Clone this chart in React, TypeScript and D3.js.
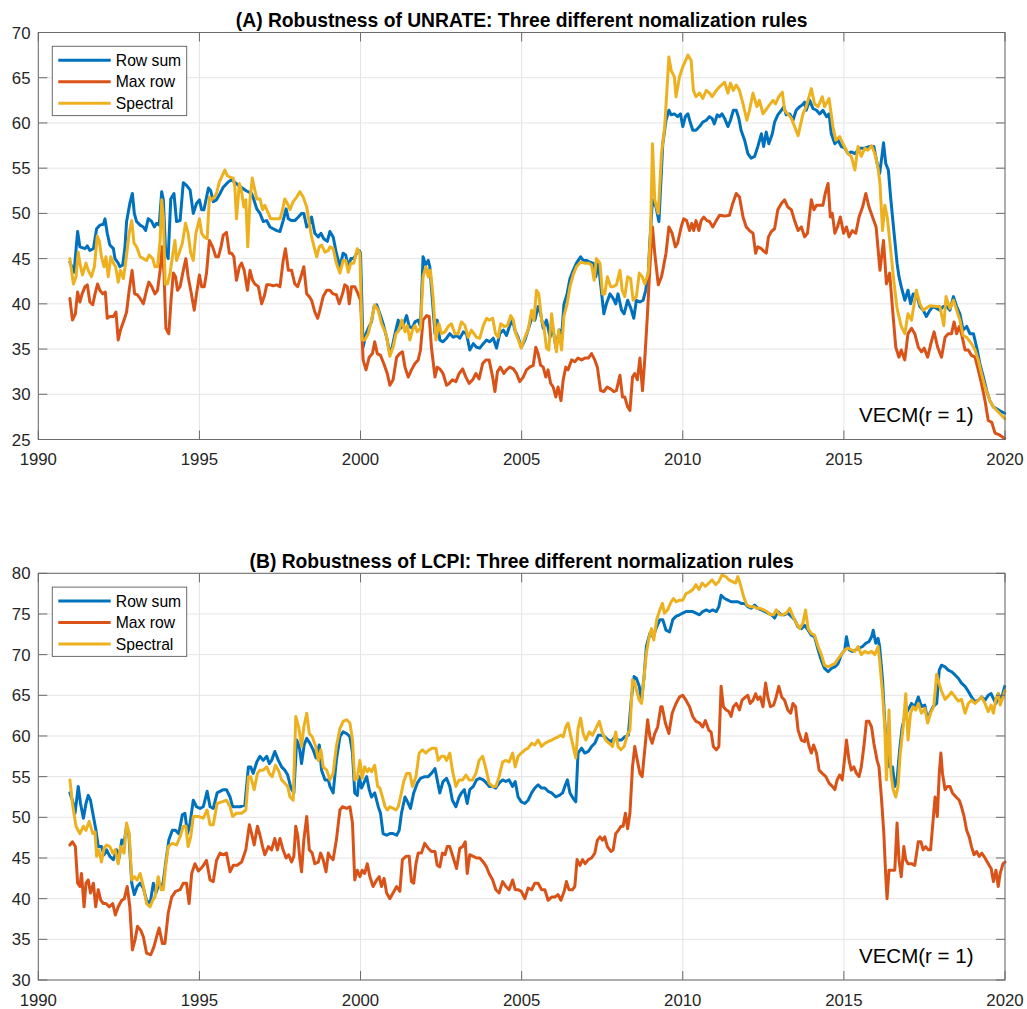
import React from "react";
import * as d3 from "d3";

type Pt = [number, number];

const xTicks = [1990, 1995, 2000, 2005, 2010, 2015, 2020];
const unrateTicks = [25, 30, 35, 40, 45, 50, 55, 60, 65, 70];
const lcpiTicks = [30, 35, 40, 45, 50, 55, 60, 65, 70, 75, 80];
const seriesNames = ["Row sum", "Max row", "Spectral"];
const seriesColors = ["#0072BD", "#D95319", "#EDB120"];
const titleA = "(A) Robustness of UNRATE: Three different nomalization rules";
const titleB = "(B) Robustness of LCPI: Three different normalization rules";
const noteText = "VECM(r = 1)";

const unrateRowSum: Pt[] = [
[1990.98,44.6],[1991.11,43.5],[1991.22,48.0],[1991.29,46.3],[1991.45,46.1],[1991.52,46.4],[1991.60,45.9],[1991.71,46.1],[1991.81,48.3],[1991.91,48.7],[1992.02,48.8],[1992.07,49.4],[1992.14,47.8],[1992.22,46.5],[1992.33,46.1],[1992.38,45.0],[1992.48,44.5],[1992.53,44.1],[1992.62,44.3],[1992.69,46.3],[1992.74,49.1],[1992.84,51.1],[1992.92,52.2],[1992.98,50.0],[1993.05,49.1],[1993.16,48.7],[1993.26,48.5],[1993.33,48.1],[1993.41,49.4],[1993.52,49.1],[1993.60,48.5],[1993.67,48.9],[1993.75,48.7],[1993.83,52.4],[1993.88,51.5],[1993.95,45.9],[1994.03,45.0],[1994.11,51.6],[1994.21,52.2],[1994.29,49.1],[1994.40,49.2],[1994.50,53.4],[1994.60,53.1],[1994.71,52.6],[1994.81,50.0],[1994.91,51.1],[1995.00,51.5],[1995.07,50.4],[1995.14,50.4],[1995.28,52.8],[1995.35,52.5],[1995.43,51.3],[1995.53,51.5],[1995.64,52.2],[1995.74,52.9],[1995.90,53.5],[1996.00,53.7],[1996.25,53.0],[1996.45,52.5],
[1996.62,52.2],[1996.69,51.5],[1996.78,50.5],[1996.88,50.0],[1996.98,49.1],[1997.09,49.2],[1997.19,48.5],[1997.29,48.3],[1997.40,48.1],[1997.50,48.0],[1997.60,49.2],[1997.69,50.5],[1997.76,49.4],[1997.86,49.2],[1997.96,49.2],[1998.07,49.6],[1998.17,50.0],[1998.24,50.0],[1998.33,48.5],[1998.43,48.9],[1998.48,49.6],[1998.58,47.8],[1998.69,47.4],[1998.77,47.8],[1998.86,47.2],[1998.97,46.9],
[1999.05,48.0],[1999.15,47.4],[1999.25,45.6],[1999.36,44.1],[1999.46,45.6],[1999.54,45.4],[1999.62,44.1],[1999.70,45.0],[1999.79,45.0],[1999.88,45.6],[1999.96,45.9],[2000.00,45.6],[2000.08,35.2],[2000.17,36.7],[2000.27,37.5],[2000.34,38.0],[2000.42,39.7],[2000.50,39.9],[2000.60,38.9],[2000.70,37.8],[2000.81,36.3],[2000.91,34.5],[2000.98,35.2],[2001.07,36.7],[2001.17,38.2],[2001.24,37.3],[2001.32,37.6],[2001.43,38.7],[2001.51,37.5],[2001.60,37.3],[2001.69,38.0],[2001.79,38.2],[2001.86,37.5],[2001.94,45.2],[2002.02,44.3],[2002.10,44.8],[2002.15,44.1],[2002.23,40.4],[2002.31,36.7],[2002.38,38.2],[2002.46,36.0],[2002.56,35.8],[2002.67,36.2],[2002.77,36.7],[2002.88,36.3],[2002.98,36.5],[2003.08,36.2],[2003.19,36.9],[2003.29,36.7],[2003.39,34.9],[2003.50,35.6],[2003.60,35.2],[2003.70,35.1],[2003.81,35.6],[2003.91,36.0],[2004.01,35.8],[2004.12,36.2],[2004.22,35.1],[2004.32,36.7],[2004.43,37.1],[2004.53,36.5],[2004.63,37.6],[2004.72,38.2],[2004.79,37.1],[2004.89,36.3],[2004.99,35.2],[2005.10,36.0],[2005.20,37.1],[2005.31,38.4],[2005.41,38.2],[2005.51,39.7],[2005.59,38.9],[2005.67,37.3],[2005.77,38.2],[2005.88,36.3],[2005.96,37.5],[2006.06,35.2],[2006.17,37.1],[2006.24,36.3],[2006.31,39.9],[2006.41,41.1],[2006.50,42.8],[2006.60,43.7],[2006.70,44.5],[2006.83,45.2],[2006.91,44.8],[2007.01,44.8],[2007.12,44.6],[2007.22,44.5],[2007.30,43.0],[2007.38,44.5],[2007.45,42.2],[2007.55,38.9],[2007.63,40.0],[2007.74,41.1],[2007.84,40.6],[2007.92,40.0],[2007.99,41.1],[2008.10,39.3],[2008.18,38.9],[2008.29,40.4],[2008.39,39.5],[2008.48,38.4],[2008.56,40.4],[2008.67,40.2],[2008.77,40.4],[2008.85,41.5],[2008.93,43.4],[2008.98,47.0],[2009.06,51.5],[2009.17,50.7],[2009.26,49.1],
[2009.38,57.7],[2009.48,60.3],[2009.57,61.4],[2009.64,60.9],[2009.74,61.0],[2009.84,60.7],[2009.93,61.0],[2010.00,59.6],[2010.08,60.7],[2010.16,61.0],[2010.23,60.1],[2010.31,59.2],[2010.41,59.2],[2010.52,59.6],[2010.62,60.1],[2010.73,60.3],[2010.83,60.7],[2010.91,60.5],[2010.98,59.9],[2011.07,60.9],[2011.14,60.7],[2011.22,61.0],[2011.30,60.5],[2011.40,59.6],[2011.48,60.3],[2011.57,61.4],[2011.66,61.4],[2011.74,60.5],[2011.81,59.2],[2011.92,58.1],[2012.02,56.6],[2012.12,56.1],[2012.23,56.3],[2012.33,57.4],[2012.44,58.8],[2012.51,57.4],[2012.59,59.0],[2012.67,57.7],[2012.78,58.8],[2012.85,60.1],[2012.95,60.9],[2013.06,61.4],[2013.14,61.8],[2013.21,60.9],[2013.32,61.0],[2013.42,60.3],[2013.52,61.4],[2013.63,61.8],[2013.71,62.0],[2013.78,62.3],[2013.83,61.4],[2013.94,62.5],[2014.04,61.6],[2014.15,61.4],[2014.25,61.0],[2014.35,61.4],[2014.46,60.7],[2014.54,61.0],[2014.61,58.8],[2014.72,57.7],[2014.82,58.1],[2014.92,57.4],[2015.03,57.2],[2015.13,56.6],[2015.23,56.8],[2015.34,56.6],[2015.49,57.2],[2015.65,57.2],[2015.80,57.4],[2015.93,57.4],[2016.01,55.9],[2016.11,54.4],[2016.18,56.3],[2016.23,57.8],[2016.30,55.5],[2016.38,54.8],[2016.45,51.8],[2016.55,48.1],[2016.65,44.5],[2016.71,43.0],[2016.78,41.9],[2016.89,40.4],[2016.99,41.5],[2017.07,40.0],[2017.15,41.1],[2017.25,41.1],[2017.36,39.7],[2017.46,39.3],[2017.56,38.6],[2017.67,39.3],[2017.77,39.7],[2017.88,39.5],[2017.98,39.3],[2018.08,39.7],[2018.19,39.7],[2018.29,39.3],[2018.40,40.8],[2018.50,39.7],[2018.60,38.9],[2018.70,37.1],[2018.81,37.5],[2018.91,36.7],[2019.02,36.7],[2019.12,35.2],[2019.22,33.4],[2019.33,31.9],[2019.43,30.4],[2019.53,29.3],[2019.64,28.6],[2019.74,28.4],[2019.83,28.2],[2019.99,27.9]
];

const unrateMaxRow: Pt[] = [
[1990.98,40.6],[1991.06,38.2],[1991.15,38.9],[1991.22,41.3],[1991.29,40.2],[1991.36,41.1],[1991.45,41.9],[1991.52,42.1],[1991.60,40.2],[1991.69,39.9],[1991.76,41.1],[1991.84,42.2],[1991.91,41.5],[1992.00,41.1],[1992.08,41.3],[1992.14,38.4],[1992.22,38.6],[1992.33,38.6],[1992.41,39.1],[1992.48,36.0],[1992.55,37.1],[1992.66,38.2],[1992.74,39.1],[1992.82,41.5],[1992.91,43.7],[1992.99,41.1],[1993.07,41.0],[1993.16,40.6],[1993.26,40.0],[1993.36,41.5],[1993.43,42.4],[1993.52,41.9],[1993.62,41.1],[1993.70,41.5],[1993.78,43.7],[1993.84,46.3],[1993.90,43.4],[1993.96,37.3],[1994.05,36.7],[1994.12,40.4],[1994.19,43.4],[1994.26,43.0],[1994.32,41.5],[1994.40,41.9],[1994.50,43.7],[1994.58,45.0],[1994.65,43.0],[1994.74,41.3],[1994.84,39.3],[1994.91,41.1],[1995.00,43.2],[1995.07,41.9],[1995.15,41.9],[1995.22,43.4],[1995.31,47.0],[1995.41,46.3],[1995.51,45.2],[1995.59,45.2],[1995.67,46.3],[1995.74,47.6],[1995.84,47.9],[1995.93,45.6],[1996.00,45.6],[1996.07,45.2],[1996.15,42.6],[1996.24,44.1],[1996.31,44.5],[1996.39,43.7],[1996.49,41.5],[1996.57,43.7],[1996.65,42.6],[1996.72,42.2],[1996.83,41.9],[1996.93,40.0],[1997.01,40.8],[1997.09,42.1],[1997.19,42.1],[1997.29,42.0],[1997.40,42.1],[1997.50,41.9],[1997.60,44.8],[1997.67,46.1],[1997.76,43.7],[1997.86,43.7],[1997.96,42.2],[1998.05,41.9],[1998.15,43.0],[1998.24,44.1],[1998.33,41.1],[1998.41,40.8],[1998.48,40.4],[1998.58,39.1],[1998.67,38.4],[1998.74,39.3],[1998.84,40.8],[1998.95,41.5],
[1999.05,41.5],[1999.15,41.1],[1999.25,41.0],[1999.34,40.0],[1999.44,41.1],[1999.51,42.1],[1999.59,41.9],[1999.65,40.0],[1999.72,41.9],[1999.82,41.9],[1999.90,41.3],[2000.00,40.4],[2000.08,33.8],[2000.17,32.7],[2000.27,34.1],[2000.37,34.5],[2000.44,35.8],[2000.52,34.5],[2000.62,34.3],[2000.72,33.4],[2000.83,32.3],[2000.91,31.0],[2001.01,31.6],[2001.12,34.1],[2001.22,34.5],[2001.30,34.7],[2001.38,33.0],[2001.48,31.9],[2001.58,32.7],[2001.69,33.4],[2001.79,33.8],[2001.86,34.9],[2001.94,38.2],[2002.05,38.7],[2002.13,38.6],[2002.20,35.2],[2002.31,31.9],[2002.38,33.0],[2002.46,32.8],[2002.56,32.3],[2002.67,31.0],[2002.75,31.2],[2002.85,31.6],[2002.96,31.4],[2003.06,32.3],[2003.17,32.8],[2003.27,31.9],[2003.37,31.2],[2003.48,31.6],[2003.58,32.3],[2003.68,31.7],[2003.79,33.4],[2003.89,33.8],[2003.99,33.8],[2004.10,31.9],[2004.17,30.3],[2004.25,32.5],[2004.34,33.0],[2004.45,32.3],[2004.53,32.7],[2004.63,33.0],[2004.74,32.8],[2004.84,32.3],[2004.94,31.4],[2005.05,31.9],[2005.15,32.7],[2005.25,33.0],[2005.36,33.2],[2005.44,35.2],[2005.51,34.5],[2005.59,33.2],[2005.67,33.0],[2005.75,31.9],[2005.82,32.7],[2005.90,31.2],[2005.98,30.8],[2006.06,29.7],[2006.13,30.8],[2006.22,29.3],[2006.29,31.6],[2006.37,33.0],[2006.44,32.7],[2006.55,33.8],[2006.65,33.6],[2006.75,34.0],[2006.86,33.8],[2006.96,34.0],[2007.07,34.0],[2007.17,34.5],[2007.27,33.8],[2007.35,33.0],[2007.45,30.4],[2007.55,30.3],[2007.65,30.8],[2007.76,30.6],[2007.86,30.3],[2007.94,30.4],[2008.05,32.1],[2008.13,29.7],[2008.20,29.7],[2008.29,28.6],[2008.36,28.2],[2008.44,31.9],[2008.51,32.3],[2008.59,31.6],[2008.67,34.0],[2008.75,30.4],[2008.82,33.8],[2008.90,38.6],[2008.98,44.1],[2009.06,48.5],[2009.13,45.6],[2009.24,42.1],
[2009.34,43.0],[2009.38,43.7],[2009.48,45.6],[2009.57,48.5],[2009.67,47.8],[2009.77,46.3],[2009.84,46.7],[2009.95,48.5],[2010.03,49.4],[2010.12,49.2],[2010.21,48.1],[2010.28,48.9],[2010.34,48.1],[2010.41,49.2],[2010.50,48.1],[2010.57,49.2],[2010.65,49.6],[2010.75,49.2],[2010.83,49.1],[2010.93,48.5],[2011.04,49.2],[2011.14,49.8],[2011.30,49.7],[2011.45,49.8],[2011.55,51.1],[2011.66,52.2],[2011.76,51.8],[2011.87,49.6],[2011.97,48.5],[2012.07,48.1],[2012.18,47.8],[2012.26,45.6],[2012.33,46.3],[2012.44,46.1],[2012.52,45.8],[2012.59,45.6],[2012.66,47.4],[2012.75,48.0],[2012.85,48.3],[2012.95,50.4],[2013.06,51.1],[2013.16,51.5],[2013.26,50.7],[2013.37,50.4],[2013.47,49.2],[2013.58,48.1],[2013.68,48.5],[2013.78,47.4],[2013.87,47.8],[2013.99,51.5],[2014.07,50.4],[2014.15,50.9],[2014.25,50.9],[2014.35,50.9],[2014.42,52.2],[2014.51,53.3],[2014.58,49.6],[2014.64,50.0],[2014.72,47.8],[2014.80,48.5],[2014.89,49.6],[2014.99,47.8],[2015.08,48.5],[2015.16,47.4],[2015.26,48.1],[2015.37,47.8],[2015.47,49.6],[2015.58,50.7],[2015.68,52.2],[2015.78,50.7],[2015.89,49.6],[2016.00,48.5],[2016.12,43.7],[2016.23,47.0],[2016.32,42.2],[2016.42,43.4],[2016.52,39.0],[2016.61,35.2],[2016.71,34.1],[2016.78,34.9],[2016.89,33.8],[2016.99,36.7],[2017.10,37.3],[2017.20,36.7],[2017.31,35.2],[2017.41,34.7],[2017.49,35.1],[2017.60,34.1],[2017.70,35.6],[2017.80,36.9],[2017.91,35.2],[2018.03,34.1],[2018.14,36.3],[2018.24,36.7],[2018.34,36.7],[2018.42,38.0],[2018.50,36.7],[2018.58,37.5],[2018.65,36.7],[2018.76,34.9],[2018.86,34.9],[2018.96,34.3],[2019.07,34.1],[2019.17,32.7],[2019.27,31.2],[2019.38,29.3],[2019.48,27.1],[2019.59,26.9],[2019.69,25.7],[2019.83,25.5],[2019.99,25.1]
];

const unrateSpectral: Pt[] = [
[1990.98,45.0],[1991.09,42.2],[1991.17,43.0],[1991.24,45.7],[1991.29,44.5],[1991.37,43.2],[1991.48,44.5],[1991.55,43.7],[1991.65,43.0],[1991.74,44.1],[1991.83,47.5],[1991.89,47.0],[1991.96,45.2],[1992.04,44.1],[1992.10,45.2],[1992.17,43.0],[1992.25,45.2],[1992.33,44.5],[1992.40,44.1],[1992.48,42.4],[1992.55,43.7],[1992.64,42.8],[1992.72,44.8],[1992.82,47.8],[1992.90,49.2],[1992.97,46.7],[1993.05,46.3],[1993.16,45.2],[1993.26,45.0],[1993.36,44.8],[1993.44,45.4],[1993.55,45.0],[1993.62,44.1],[1993.70,44.1],[1993.78,47.0],[1993.83,51.5],[1993.88,49.6],[1993.94,42.2],[1994.01,42.2],[1994.09,43.4],[1994.17,45.4],[1994.24,47.0],[1994.29,44.8],[1994.37,45.6],[1994.47,46.7],[1994.57,48.9],[1994.65,47.8],[1994.73,45.6],[1994.81,44.8],[1994.89,47.8],[1995.00,49.4],[1995.07,47.8],[1995.15,47.4],[1995.24,47.2],[1995.31,51.8],[1995.38,51.5],[1995.46,51.8],[1995.53,52.2],[1995.62,53.5],[1995.69,54.0],[1995.79,54.8],[1995.86,54.2],[1995.95,54.0],[1996.05,53.9],[1996.10,52.9],[1996.15,49.4],[1996.24,53.3],[1996.31,52.4],[1996.38,50.7],[1996.44,51.5],[1996.50,46.3],[1996.57,51.5],[1996.64,53.9],[1996.70,52.9],[1996.78,51.6],[1996.88,51.6],[1996.96,50.4],[1997.03,50.9],[1997.14,50.0],[1997.21,49.4],[1997.29,49.4],[1997.40,49.4],[1997.50,49.4],[1997.58,50.4],[1997.65,51.6],[1997.73,51.1],[1997.81,50.4],[1997.91,51.3],[1998.02,51.8],[1998.12,52.4],[1998.22,51.8],[1998.33,50.7],[1998.41,48.9],[1998.48,47.4],[1998.56,46.3],[1998.64,45.2],[1998.72,46.3],[1998.79,46.5],[1998.90,45.7],[1999.00,45.9],
[1999.05,46.3],[1999.15,46.1],[1999.25,44.5],[1999.36,43.4],[1999.46,44.8],[1999.54,44.8],[1999.62,43.5],[1999.70,44.5],[1999.79,44.5],[1999.90,46.1],[1999.98,45.6],[2000.05,36.0],[2000.13,36.0],[2000.24,36.7],[2000.34,38.2],[2000.44,39.9],[2000.55,39.3],[2000.65,37.8],[2000.79,36.7],[2000.91,34.2],[2001.01,35.2],[2001.10,36.7],[2001.20,37.1],[2001.28,38.2],[2001.38,36.9],[2001.45,37.6],[2001.53,36.0],[2001.61,37.1],[2001.69,37.6],[2001.76,36.9],[2001.86,37.3],[2001.94,43.0],[2002.03,44.1],[2002.10,43.0],[2002.17,43.7],[2002.25,40.8],[2002.34,36.0],[2002.43,37.8],[2002.51,36.7],[2002.62,36.9],[2002.72,37.5],[2002.82,37.8],[2002.93,36.7],[2003.03,36.7],[2003.13,38.0],[2003.24,37.6],[2003.34,36.3],[2003.44,37.1],[2003.52,36.7],[2003.60,36.3],[2003.70,36.2],[2003.81,37.6],[2003.91,38.4],[2003.99,38.2],[2004.10,38.4],[2004.19,36.7],[2004.27,36.3],[2004.35,37.8],[2004.46,37.5],[2004.56,37.6],[2004.66,38.7],[2004.74,38.2],[2004.82,36.7],[2004.90,36.0],[2004.99,35.1],[2005.10,36.3],[2005.20,37.1],[2005.31,39.3],[2005.38,38.2],[2005.46,41.5],[2005.53,41.1],[2005.62,38.2],[2005.69,37.5],[2005.77,35.1],[2005.84,34.9],[2005.93,38.9],[2006.00,36.7],[2006.08,34.7],[2006.15,37.1],[2006.24,34.9],[2006.31,38.6],[2006.41,40.0],[2006.50,41.9],[2006.60,43.2],[2006.70,44.1],[2006.83,44.6],[2006.96,44.5],[2007.07,44.5],[2007.17,44.3],[2007.25,42.6],[2007.32,45.0],[2007.43,44.5],[2007.51,41.1],[2007.58,41.1],[2007.66,43.0],[2007.76,41.9],[2007.84,41.9],[2007.94,42.1],[2008.05,43.7],[2008.12,41.5],[2008.20,40.8],[2008.29,43.0],[2008.38,42.8],[2008.46,40.4],[2008.56,40.8],[2008.65,43.4],[2008.74,43.0],[2008.82,42.2],[2008.93,43.4],[2009.00,47.8],[2009.06,57.7],[2009.13,51.5],[2009.24,50.0],[2009.34,56.6],[2009.44,59.6],
[2009.57,67.3],[2009.64,65.8],[2009.74,65.1],[2009.79,62.9],[2009.90,65.1],[2010.00,66.2],[2010.16,67.5],[2010.26,66.9],[2010.33,63.6],[2010.41,62.9],[2010.52,63.3],[2010.62,62.7],[2010.73,63.6],[2010.83,63.3],[2010.91,62.9],[2011.04,63.6],[2011.14,64.0],[2011.30,64.5],[2011.40,63.3],[2011.48,64.4],[2011.57,63.6],[2011.66,64.2],[2011.76,63.6],[2011.87,62.1],[2011.99,60.3],[2012.07,61.4],[2012.18,63.3],[2012.30,61.8],[2012.38,62.5],[2012.49,61.0],[2012.57,61.4],[2012.69,62.0],[2012.80,62.5],[2012.88,62.1],[2012.98,62.9],[2013.09,63.4],[2013.16,61.4],[2013.26,61.0],[2013.37,60.5],[2013.47,59.6],[2013.58,58.6],[2013.73,61.0],[2013.83,61.8],[2013.99,63.8],[2014.09,62.1],[2014.20,61.8],[2014.33,62.9],[2014.40,61.8],[2014.54,62.7],[2014.66,59.6],[2014.75,58.1],[2014.87,58.5],[2014.97,57.7],[2015.13,56.6],[2015.23,56.3],[2015.34,54.8],[2015.44,57.4],[2015.54,56.3],[2015.65,57.2],[2015.75,57.0],[2015.86,57.5],[2015.96,56.6],[2016.06,55.0],[2016.12,53.3],[2016.20,48.1],[2016.27,50.9],[2016.35,49.5],[2016.45,46.0],[2016.55,42.5],[2016.65,39.5],[2016.78,37.5],[2016.89,36.7],[2016.99,38.9],[2017.10,38.2],[2017.25,41.5],[2017.36,40.0],[2017.46,39.3],[2017.67,39.8],[2017.88,39.7],[2017.98,39.7],[2018.10,37.6],[2018.17,40.8],[2018.29,39.5],[2018.40,40.4],[2018.50,39.3],[2018.60,38.2],[2018.70,36.5],[2018.81,36.3],[2018.96,35.6],[2019.07,34.9],[2019.17,33.8],[2019.27,32.3],[2019.38,30.8],[2019.53,29.3],[2019.64,28.6],[2019.83,27.9],[2019.99,27.3]
];

const lcpiRowSum: Pt[] = [
[1990.98,53.0],[1991.06,52.1],[1991.14,50.5],[1991.24,53.8],[1991.31,51.7],[1991.40,49.9],[1991.48,51.7],[1991.55,52.7],[1991.62,52.1],[1991.71,50.1],[1991.79,48.4],[1991.86,46.4],[1991.96,46.4],[1992.04,45.4],[1992.12,46.0],[1992.22,45.2],[1992.33,44.8],[1992.43,46.0],[1992.51,45.0],[1992.59,47.2],[1992.66,46.8],[1992.74,48.9],[1992.81,48.0],[1992.90,41.9],[1992.98,40.5],[1993.07,41.5],[1993.16,41.9],[1993.26,41.3],[1993.36,39.8],[1993.47,39.4],[1993.57,41.9],[1993.65,40.7],[1993.75,41.9],[1993.86,41.5],[1993.95,44.3],[1994.05,47.2],[1994.16,48.4],[1994.26,48.4],[1994.36,48.0],[1994.47,50.3],[1994.55,50.5],[1994.63,48.0],[1994.71,49.3],[1994.81,52.1],[1994.91,51.3],[1995.02,51.1],[1995.12,51.3],[1995.24,53.2],[1995.33,51.3],[1995.43,51.1],[1995.55,53.0],[1995.64,53.2],[1995.74,53.4],[1995.84,53.4],[1995.95,52.5],[1996.03,51.3],[1996.15,51.3],[1996.26,51.3],[1996.41,51.5],[1996.52,56.2],[1996.59,56.2],[1996.67,55.4],[1996.78,56.8],[1996.88,57.5],[1996.98,57.0],[1997.09,57.5],[1997.17,56.6],[1997.24,57.0],[1997.34,58.1],[1997.45,57.0],[1997.55,56.2],[1997.65,55.8],[1997.74,55.2],[1997.84,53.6],[1997.93,53.0],[1998.02,59.5],[1998.10,58.7],[1998.17,56.6],[1998.25,58.9],[1998.33,59.7],[1998.43,59.1],[1998.53,58.3],[1998.62,57.3],[1998.72,58.9],[1998.79,55.8],[1998.90,54.6],[1999.00,54.6],
[1999.05,53.8],[1999.15,53.0],[1999.25,57.0],[1999.36,59.9],[1999.46,60.5],[1999.57,60.3],[1999.67,59.9],[1999.75,57.9],[1999.82,53.0],[1999.90,52.7],[1999.96,55.0],[2000.03,53.6],[2000.10,54.2],[2000.19,55.0],[2000.27,53.4],[2000.34,52.5],[2000.44,53.0],[2000.55,51.3],[2000.62,50.5],[2000.70,48.0],[2000.81,47.8],[2000.91,48.0],[2001.01,48.0],[2001.12,47.8],[2001.20,48.4],[2001.27,50.5],[2001.38,52.5],[2001.46,51.9],[2001.55,51.1],[2001.65,53.0],[2001.76,54.2],[2001.86,54.8],[2001.99,55.0],[2002.10,55.0],[2002.20,55.4],[2002.31,56.0],[2002.38,54.6],[2002.46,53.0],[2002.56,54.4],[2002.67,54.8],[2002.77,53.8],[2002.85,52.1],[2002.96,51.3],[2003.06,52.5],[2003.13,53.0],[2003.22,53.4],[2003.31,51.7],[2003.39,53.4],[2003.50,53.8],[2003.60,54.6],[2003.70,54.8],[2003.81,54.6],[2003.91,54.2],[2003.99,53.8],[2004.10,53.8],[2004.20,53.6],[2004.30,54.2],[2004.41,54.6],[2004.51,54.4],[2004.61,54.6],[2004.72,53.8],[2004.80,54.4],[2004.89,52.5],[2004.99,51.9],[2005.10,51.7],[2005.20,52.1],[2005.31,53.0],[2005.41,53.6],[2005.51,54.0],[2005.62,53.6],[2005.72,53.6],[2005.82,53.2],[2005.93,53.0],[2006.06,52.5],[2006.17,52.7],[2006.27,53.0],[2006.34,53.8],[2006.42,54.6],[2006.50,53.0],[2006.60,52.3],[2006.68,51.9],[2006.75,57.9],[2006.86,58.5],[2006.96,57.9],[2007.07,58.1],[2007.17,58.7],[2007.27,59.1],[2007.38,60.1],[2007.48,60.1],[2007.58,59.9],[2007.69,59.5],[2007.79,59.3],[2007.89,59.9],[2007.99,59.5],[2008.10,59.5],[2008.20,59.9],[2008.31,60.1],[2008.41,64.8],[2008.49,67.3],[2008.56,67.1],[2008.65,66.1],[2008.72,64.4],[2008.80,67.3],[2008.87,71.0],[2008.98,72.6],[2009.08,72.2],[2009.19,73.4],[2009.29,74.3],
[2009.38,74.3],[2009.48,73.0],[2009.59,72.8],[2009.69,74.3],[2009.79,74.7],[2009.90,74.9],[2010.00,75.1],[2010.10,75.3],[2010.31,75.3],[2010.52,74.9],[2010.62,75.3],[2010.73,75.5],[2010.83,75.3],[2010.93,75.5],[2011.04,75.3],[2011.12,75.9],[2011.19,77.3],[2011.30,76.9],[2011.40,76.7],[2011.50,76.5],[2011.71,76.5],[2011.81,76.3],[2011.92,76.3],[2012.02,75.9],[2012.12,75.7],[2012.23,76.1],[2012.33,75.7],[2012.44,75.5],[2012.54,75.3],[2012.64,75.1],[2012.75,74.9],[2012.85,74.5],[2012.95,75.3],[2013.06,74.9],[2013.16,74.9],[2013.26,75.1],[2013.37,74.7],[2013.47,74.3],[2013.58,73.4],[2013.68,73.2],[2013.78,73.6],[2013.89,73.0],[2013.99,72.4],[2014.09,72.2],[2014.20,70.6],[2014.30,69.3],[2014.40,68.3],[2014.51,67.9],[2014.61,68.3],[2014.72,68.5],[2014.82,68.9],[2014.92,70.0],[2015.03,70.6],[2015.08,72.2],[2015.16,70.6],[2015.26,70.4],[2015.37,70.6],[2015.47,70.8],[2015.58,71.0],[2015.68,71.4],[2015.78,71.6],[2015.86,72.2],[2015.91,73.0],[2015.99,71.4],[2016.06,72.0],[2016.11,71.0],[2016.20,66.9],[2016.27,61.6],[2016.35,57.5],[2016.42,56.2],[2016.51,56.2],[2016.58,53.8],[2016.65,54.6],[2016.73,58.3],[2016.81,61.1],[2016.89,62.4],[2016.99,63.2],[2017.10,64.0],[2017.20,63.6],[2017.31,64.8],[2017.41,63.6],[2017.51,63.8],[2017.60,62.0],[2017.67,62.8],[2017.77,63.6],[2017.88,64.0],[2017.96,68.1],[2018.03,68.7],[2018.14,68.5],[2018.24,68.1],[2018.34,67.9],[2018.45,67.5],[2018.55,67.1],[2018.65,66.5],[2018.76,66.1],[2018.86,65.5],[2018.96,64.8],[2019.07,64.2],[2019.17,64.4],[2019.27,64.8],[2019.38,64.4],[2019.48,65.0],[2019.57,65.2],[2019.64,64.6],[2019.72,64.0],[2019.79,65.2],[2019.88,64.4],[2019.99,66.1]
];

const lcpiMaxRow: Pt[] = [
[1990.98,46.6],[1991.06,47.0],[1991.15,46.4],[1991.22,41.9],[1991.29,41.5],[1991.34,43.1],[1991.42,39.0],[1991.48,41.9],[1991.55,42.3],[1991.62,40.7],[1991.71,41.9],[1991.78,39.0],[1991.86,41.1],[1991.94,39.8],[1992.02,39.4],[1992.10,39.4],[1992.20,39.0],[1992.31,39.4],[1992.39,38.0],[1992.48,39.0],[1992.59,39.8],[1992.67,40.0],[1992.76,41.5],[1992.84,39.0],[1992.92,33.7],[1993.00,34.9],[1993.08,36.6],[1993.18,36.1],[1993.26,35.3],[1993.36,33.3],[1993.49,33.1],[1993.59,34.1],[1993.67,35.3],[1993.75,36.4],[1993.85,34.5],[1993.93,34.5],[1994.03,38.2],[1994.14,40.2],[1994.26,40.9],[1994.40,41.1],[1994.50,41.9],[1994.60,41.9],[1994.68,39.4],[1994.76,43.1],[1994.86,44.3],[1994.97,43.4],[1995.09,43.9],[1995.22,44.7],[1995.33,42.3],[1995.43,42.1],[1995.53,44.7],[1995.64,45.6],[1995.74,45.4],[1995.84,45.6],[1995.95,43.3],[1996.05,44.1],[1996.17,44.1],[1996.31,44.5],[1996.44,46.0],[1996.55,49.1],[1996.62,48.0],[1996.70,46.6],[1996.80,48.9],[1996.88,47.8],[1996.96,46.4],[1997.03,45.4],[1997.14,46.4],[1997.24,46.0],[1997.34,47.4],[1997.42,46.0],[1997.50,47.4],[1997.58,46.2],[1997.69,45.0],[1997.77,45.4],[1997.86,44.5],[1997.93,45.2],[1997.99,48.9],[1998.05,47.8],[1998.12,44.8],[1998.17,43.3],[1998.24,47.2],[1998.33,50.1],[1998.41,46.0],[1998.50,45.6],[1998.58,44.3],[1998.69,44.5],[1998.76,45.6],[1998.84,44.8],[1998.93,43.3],[1999.00,45.6],
[1999.05,45.2],[1999.15,44.8],[1999.25,47.2],[1999.36,50.9],[1999.44,51.3],[1999.57,51.1],[1999.67,51.3],[1999.75,49.3],[1999.82,42.3],[1999.90,43.5],[1999.98,42.7],[2000.05,43.5],[2000.13,43.1],[2000.21,44.3],[2000.29,42.7],[2000.39,41.5],[2000.50,42.3],[2000.58,42.7],[2000.65,41.5],[2000.73,42.5],[2000.81,40.7],[2000.91,40.0],[2001.01,40.7],[2001.12,41.5],[2001.22,40.9],[2001.30,44.8],[2001.41,45.2],[2001.51,45.2],[2001.58,42.1],[2001.65,41.9],[2001.72,44.3],[2001.79,45.6],[2001.89,45.6],[2001.99,46.8],[2002.10,46.2],[2002.20,45.8],[2002.31,45.8],[2002.38,44.1],[2002.46,43.9],[2002.54,45.6],[2002.62,45.4],[2002.69,46.4],[2002.77,46.4],[2002.88,45.0],[2002.98,43.7],[2003.08,46.2],[2003.17,46.4],[2003.25,47.0],[2003.31,43.1],[2003.39,45.4],[2003.50,45.2],[2003.60,45.0],[2003.70,45.0],[2003.81,44.5],[2003.91,43.9],[2003.99,43.1],[2004.10,42.3],[2004.20,41.1],[2004.30,40.7],[2004.41,42.1],[2004.51,41.5],[2004.61,41.1],[2004.72,42.3],[2004.80,41.1],[2004.89,41.1],[2004.99,40.9],[2005.10,40.0],[2005.20,41.3],[2005.31,41.1],[2005.41,41.9],[2005.51,41.9],[2005.62,41.1],[2005.72,41.1],[2005.82,39.8],[2005.93,40.2],[2006.03,40.2],[2006.13,40.5],[2006.22,39.8],[2006.32,40.9],[2006.39,42.1],[2006.47,41.1],[2006.58,41.1],[2006.65,41.5],[2006.72,44.8],[2006.81,44.1],[2006.89,44.8],[2006.97,44.3],[2007.07,44.8],[2007.17,45.0],[2007.27,45.6],[2007.35,47.2],[2007.43,47.6],[2007.51,47.2],[2007.58,47.6],[2007.66,46.4],[2007.77,45.8],[2007.84,46.0],[2007.92,48.0],[2008.00,48.4],[2008.08,48.9],[2008.15,48.9],[2008.22,50.5],[2008.29,48.6],[2008.36,50.5],[2008.44,56.2],[2008.51,58.7],[2008.59,57.0],[2008.67,55.4],[2008.74,55.0],[2008.82,58.3],[2008.91,62.0],[2008.98,59.9],[2009.05,59.1],[2009.13,60.3],[2009.22,61.1],[2009.32,63.6],
[2009.36,63.6],[2009.46,61.6],[2009.57,60.3],[2009.67,62.8],[2009.79,64.0],[2009.90,64.8],[2010.00,65.0],[2010.10,64.4],[2010.21,63.6],[2010.31,62.4],[2010.41,61.8],[2010.52,61.6],[2010.62,61.1],[2010.70,61.9],[2010.81,60.7],[2010.88,60.5],[2010.95,58.7],[2011.04,58.3],[2011.12,58.7],[2011.19,66.1],[2011.26,63.6],[2011.35,63.2],[2011.43,63.0],[2011.50,62.4],[2011.57,63.6],[2011.66,64.0],[2011.76,63.2],[2011.84,64.4],[2011.95,64.8],[2012.02,65.0],[2012.09,64.0],[2012.18,64.4],[2012.26,65.2],[2012.33,64.5],[2012.40,64.8],[2012.49,63.6],[2012.57,66.5],[2012.64,64.8],[2012.72,63.6],[2012.82,63.8],[2012.90,64.8],[2012.98,66.1],[2013.07,64.8],[2013.16,64.4],[2013.26,63.2],[2013.35,62.8],[2013.42,64.0],[2013.50,63.6],[2013.58,60.7],[2013.68,59.5],[2013.78,59.3],[2013.83,60.3],[2013.92,58.7],[2013.99,57.9],[2014.06,58.9],[2014.15,57.9],[2014.23,55.8],[2014.33,55.4],[2014.44,55.0],[2014.54,54.2],[2014.64,53.8],[2014.72,53.4],[2014.79,54.6],[2014.87,55.2],[2014.95,54.6],[2015.03,57.5],[2015.08,59.5],[2015.16,57.0],[2015.23,55.8],[2015.31,56.2],[2015.39,55.4],[2015.47,55.0],[2015.54,56.2],[2015.62,58.7],[2015.70,61.8],[2015.78,61.8],[2015.86,61.1],[2015.93,59.1],[2016.03,57.0],[2016.09,56.2],[2016.17,52.1],[2016.24,48.0],[2016.30,42.7],[2016.34,40.0],[2016.40,43.5],[2016.48,43.5],[2016.58,43.5],[2016.65,49.3],[2016.71,44.8],[2016.78,42.7],[2016.86,46.4],[2016.92,44.8],[2016.99,44.3],[2017.10,44.3],[2017.20,44.1],[2017.31,47.0],[2017.39,47.0],[2017.46,46.0],[2017.54,46.4],[2017.62,46.0],[2017.69,46.0],[2017.77,49.7],[2017.83,52.5],[2017.90,50.1],[2017.96,55.4],[2018.01,57.9],[2018.06,55.4],[2018.14,53.4],[2018.21,53.8],[2018.29,53.8],[2018.37,53.0],[2018.48,52.5],[2018.58,52.1],[2018.65,51.3],[2018.73,50.1],[2018.81,48.4],[2018.89,47.6],[2018.96,46.4],[2019.04,45.4],[2019.12,45.8],[2019.20,45.2],[2019.28,45.6],[2019.38,45.0],[2019.48,44.3],[2019.57,43.7],[2019.64,42.1],[2019.72,43.5],[2019.79,41.5],[2019.85,43.1],[2019.94,44.3],[2020.00,44.5]
];

const lcpiSpectral: Pt[] = [
[1990.98,54.6],[1991.06,51.7],[1991.17,48.9],[1991.29,48.0],[1991.40,48.9],[1991.48,48.4],[1991.58,49.5],[1991.69,48.0],[1991.76,48.2],[1991.81,45.2],[1991.88,46.0],[1991.96,44.5],[1992.04,46.2],[1992.12,46.6],[1992.22,46.4],[1992.31,45.6],[1992.38,46.0],[1992.48,44.3],[1992.55,46.4],[1992.66,45.6],[1992.74,49.3],[1992.82,48.0],[1992.90,42.3],[1992.98,42.7],[1993.07,42.3],[1993.16,43.1],[1993.26,41.5],[1993.36,39.4],[1993.47,39.0],[1993.55,39.8],[1993.62,40.2],[1993.72,42.7],[1993.81,41.1],[1993.88,41.1],[1993.95,43.9],[1994.03,46.4],[1994.16,46.8],[1994.29,46.6],[1994.40,47.6],[1994.50,48.9],[1994.58,48.9],[1994.65,46.4],[1994.73,47.6],[1994.81,50.1],[1994.97,50.1],[1995.12,49.9],[1995.24,50.9],[1995.33,49.1],[1995.43,49.1],[1995.55,51.7],[1995.69,51.9],[1995.84,52.1],[1995.95,51.3],[1996.03,50.1],[1996.15,50.5],[1996.31,50.5],[1996.44,50.9],[1996.52,55.0],[1996.59,55.0],[1996.70,53.4],[1996.80,55.4],[1996.88,55.8],[1996.98,55.8],[1997.09,56.2],[1997.17,55.4],[1997.26,55.0],[1997.36,56.4],[1997.45,55.8],[1997.55,54.6],[1997.65,54.2],[1997.74,53.8],[1997.81,52.5],[1997.91,52.1],[1997.99,62.4],[1998.08,61.1],[1998.17,58.7],[1998.24,61.1],[1998.33,62.8],[1998.41,60.3],[1998.50,59.9],[1998.61,58.7],[1998.69,57.0],[1998.77,58.3],[1998.84,56.2],[1998.95,55.8],
[1999.05,54.6],[1999.15,55.4],[1999.25,58.7],[1999.36,60.9],[1999.46,61.8],[1999.57,62.0],[1999.67,61.6],[1999.75,59.5],[1999.82,54.6],[1999.90,54.8],[1999.98,57.0],[2000.05,54.8],[2000.13,56.2],[2000.21,55.6],[2000.27,56.0],[2000.34,55.6],[2000.44,56.4],[2000.53,53.8],[2000.60,53.6],[2000.68,52.5],[2000.76,51.3],[2000.83,50.9],[2000.91,51.3],[2001.01,51.1],[2001.10,50.9],[2001.17,51.3],[2001.24,52.5],[2001.34,54.4],[2001.43,55.4],[2001.53,55.4],[2001.61,53.8],[2001.72,55.0],[2001.82,57.9],[2001.92,58.3],[2002.03,57.9],[2002.13,58.3],[2002.23,58.5],[2002.34,58.5],[2002.41,57.0],[2002.51,57.5],[2002.60,57.5],[2002.67,57.0],[2002.77,57.9],[2002.85,55.8],[2002.96,53.8],[2003.06,54.6],[2003.17,54.6],[2003.27,55.2],[2003.37,54.6],[2003.48,54.6],[2003.58,55.4],[2003.68,57.0],[2003.79,57.5],[2003.89,56.0],[2003.99,54.2],[2004.10,53.8],[2004.20,53.8],[2004.30,55.0],[2004.41,56.8],[2004.51,57.0],[2004.61,56.8],[2004.72,57.9],[2004.80,56.2],[2004.89,57.5],[2004.99,57.9],[2005.10,58.3],[2005.20,58.5],[2005.31,59.1],[2005.41,58.9],[2005.51,59.5],[2005.62,58.7],[2005.72,59.1],[2005.82,59.3],[2005.93,59.5],[2006.03,59.7],[2006.13,59.9],[2006.22,60.1],[2006.29,59.9],[2006.37,61.1],[2006.44,61.6],[2006.52,60.1],[2006.60,58.7],[2006.68,57.3],[2006.75,60.9],[2006.83,62.2],[2006.91,60.3],[2006.99,59.5],[2007.10,60.5],[2007.20,60.1],[2007.30,60.9],[2007.41,61.8],[2007.51,60.3],[2007.61,59.5],[2007.72,59.1],[2007.82,58.7],[2007.92,60.5],[2007.99,58.7],[2008.08,58.3],[2008.18,58.7],[2008.29,60.3],[2008.36,60.7],[2008.44,66.9],[2008.51,66.5],[2008.59,65.2],[2008.65,64.4],[2008.72,64.0],[2008.80,67.3],[2008.87,70.2],[2008.96,72.2],[2009.03,73.2],[2009.10,71.8],[2009.19,74.3],[2009.29,75.5],
[2009.37,76.3],[2009.43,75.1],[2009.53,75.5],[2009.64,76.5],[2009.71,76.9],[2009.79,76.5],[2009.90,76.7],[2010.00,76.7],[2010.10,77.5],[2010.21,77.7],[2010.31,78.0],[2010.41,78.6],[2010.50,78.0],[2010.60,78.8],[2010.70,78.4],[2010.81,78.8],[2010.91,79.2],[2011.02,78.6],[2011.12,79.0],[2011.22,79.8],[2011.33,79.6],[2011.43,79.2],[2011.53,79.0],[2011.64,78.8],[2011.71,79.6],[2011.79,78.6],[2011.89,77.1],[2011.99,76.1],[2012.09,75.9],[2012.20,75.9],[2012.30,75.7],[2012.40,75.7],[2012.51,75.5],[2012.61,75.3],[2012.72,74.9],[2012.82,74.9],[2012.90,75.5],[2013.01,74.9],[2013.11,74.9],[2013.21,75.1],[2013.32,75.7],[2013.42,74.7],[2013.52,73.9],[2013.63,73.2],[2013.73,73.9],[2013.81,75.5],[2013.89,73.2],[2013.99,72.6],[2014.09,72.4],[2014.20,71.0],[2014.30,70.0],[2014.40,68.7],[2014.51,68.5],[2014.61,68.7],[2014.72,68.9],[2014.82,69.5],[2014.92,70.0],[2015.03,70.6],[2015.13,70.8],[2015.23,70.6],[2015.34,70.4],[2015.44,71.0],[2015.54,70.0],[2015.65,70.4],[2015.75,70.2],[2015.86,70.4],[2015.96,70.0],[2016.06,71.0],[2016.11,69.3],[2016.20,65.2],[2016.27,61.1],[2016.32,54.6],[2016.40,63.2],[2016.46,55.4],[2016.53,53.4],[2016.61,52.5],[2016.68,53.8],[2016.75,57.9],[2016.84,61.1],[2016.92,65.2],[2016.99,59.5],[2017.07,62.8],[2017.15,63.6],[2017.23,63.2],[2017.31,64.0],[2017.41,62.8],[2017.51,63.4],[2017.60,61.6],[2017.69,62.8],[2017.79,63.6],[2017.88,67.6],[2017.96,66.4],[2018.03,65.5],[2018.14,64.5],[2018.24,64.9],[2018.34,65.4],[2018.45,64.8],[2018.55,64.3],[2018.65,64.5],[2018.76,62.8],[2018.86,64.0],[2018.96,64.4],[2019.07,64.0],[2019.17,64.4],[2019.27,64.8],[2019.38,64.0],[2019.48,63.0],[2019.57,63.8],[2019.64,62.8],[2019.72,64.6],[2019.79,65.2],[2019.85,63.8],[2019.94,64.8],[2020.00,65.6]
];

const FONT = "'Liberation Sans', Arial, Helvetica, sans-serif";
const AXIS_COLOR = "#6a6a6a";
const GRID_COLOR = "#e4e4e4";
const TEXT_COLOR = "#262626";

type PanelProps = {
  top: number;
  bottom: number;
  yDomain: [number, number];
  yTicks: number[];
  title: string;
  titleY: number;
  series: Pt[][];
  xLabelY: number;
  noteY: number;
};

const LEFT = 38.3;
const RIGHT = 1005;
const TICK = 9;

function Panel({ top, bottom, yDomain, yTicks, title, titleY, series, xLabelY, noteY }: PanelProps) {
  const x = d3.scaleLinear().domain([1990, 2020]).range([LEFT, RIGHT]);
  const y = d3.scaleLinear().domain(yDomain).range([bottom, top]);
  const line = d3
    .line<Pt>()
    .x((d) => x(d[0]))
    .y((d) => y(d[1]));

  const legendX = 52.3;
  const legendY = top + 13.8;
  const legendW = 134.4;
  const legendH = 69.3;
  const rowY = [14, 35.5, 57];

  return (
    <g>
      {xTicks.map((t) => (
        <line key={"gx" + t} x1={x(t)} x2={x(t)} y1={top} y2={bottom} stroke={GRID_COLOR} strokeWidth={1} />
      ))}
      {yTicks.map((t) => (
        <line key={"gy" + t} x1={LEFT} x2={RIGHT} y1={y(t)} y2={y(t)} stroke={GRID_COLOR} strokeWidth={1} />
      ))}
      {series.map((s, i) => (
        <path
          key={"s" + i}
          d={line(s) || ""}
          fill="none"
          stroke={seriesColors[i]}
          strokeWidth={3}
          strokeLinejoin="round"
          strokeLinecap="round"
        />
      ))}
      <rect x={LEFT} y={top} width={RIGHT - LEFT} height={bottom - top} fill="none" stroke={AXIS_COLOR} strokeWidth={1} />
      {xTicks.map((t) => (
        <g key={"tx" + t}>
          <line x1={x(t)} x2={x(t)} y1={bottom} y2={bottom - TICK} stroke={AXIS_COLOR} strokeWidth={1} />
          <line x1={x(t)} x2={x(t)} y1={top} y2={top + TICK} stroke={AXIS_COLOR} strokeWidth={1} />
          <text x={x(t)} y={xLabelY} textAnchor="middle" fontSize={16.8} fill={TEXT_COLOR} fontFamily={FONT}>
            {t}
          </text>
        </g>
      ))}
      {yTicks.map((t) => (
        <g key={"ty" + t}>
          <line x1={LEFT} x2={LEFT + TICK} y1={y(t)} y2={y(t)} stroke={AXIS_COLOR} strokeWidth={1} />
          <line x1={RIGHT} x2={RIGHT - TICK} y1={y(t)} y2={y(t)} stroke={AXIS_COLOR} strokeWidth={1} />
          <text x={30.5} y={y(t) + 6} textAnchor="end" fontSize={16.8} fill={TEXT_COLOR} fontFamily={FONT}>
            {t}
          </text>
        </g>
      ))}
      <text x={(LEFT + RIGHT) / 2} y={titleY} textAnchor="middle" fontSize={19.3} fontWeight="bold" fill="#000" fontFamily={FONT}>
        {title}
      </text>
      <rect x={legendX} y={legendY} width={legendW} height={legendH} fill="#fff" stroke={AXIS_COLOR} strokeWidth={1} />
      {seriesNames.map((n, i) => (
        <g key={"lg" + i}>
          <line
            x1={58.3}
            x2={110.7}
            y1={legendY + rowY[i]}
            y2={legendY + rowY[i]}
            stroke={seriesColors[i]}
            strokeWidth={3}
          />
          <text x={115.8} y={legendY + rowY[i] + 5.6} fontSize={15.7} fill="#000" fontFamily={FONT}>
            {n}
          </text>
        </g>
      ))}
      <text x={859} y={noteY} fontSize={20.5} fill="#000" fontFamily={FONT}>
        {noteText}
      </text>
    </g>
  );
}

export default function App() {
  return (
    <div style={{ position: "absolute", left: 0, top: 0, width: 1027, height: 1009, background: "#fff" }}>
      <svg width={1027} height={1009} viewBox="0 0 1027 1009" style={{ display: "block" }}>
        <rect x={0} y={0} width={1027} height={1009} fill="#fff" />
        <Panel
          top={32.5}
          bottom={439.5}
          yDomain={[25, 70]}
          yTicks={unrateTicks}
          title={titleA}
          titleY={26.7}
          series={[unrateRowSum, unrateMaxRow, unrateSpectral]}
          xLabelY={464.5}
          noteY={421.7}
        />
        <Panel
          top={573.3}
          bottom={980}
          yDomain={[30, 80]}
          yTicks={lcpiTicks}
          title={titleB}
          titleY={567.8}
          series={[lcpiRowSum, lcpiMaxRow, lcpiSpectral]}
          xLabelY={1005.5}
          noteY={962.7}
        />
      </svg>
    </div>
  );
}
